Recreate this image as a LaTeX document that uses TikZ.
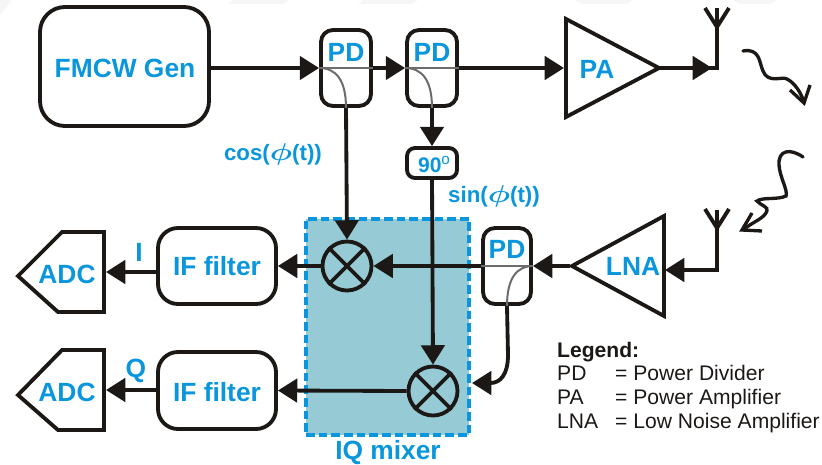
\documentclass[tikz,border=0pt]{standalone}
\usepackage{fontspec}
\setmainfont{Liberation Sans}
\usetikzlibrary{arrows.meta}
\definecolor{sigblue}{HTML}{0A96DC}
\definecolor{inkblack}{HTML}{1C1816}
\definecolor{mixfill}{HTML}{96CBD6}
\newcommand{\bigphi}{\scalebox{1.55}[1.2]{$\phi$}}
\tikzset{
	sig/.style={draw=inkblack, line width=1.15mm, line join=miter},
	feed/.style={sig, -{Triangle[length=5.8mm,width=7mm]}},
	tap/.style={draw=gray!85!black, line width=0.6mm},
	rbox/.style={sig, rounded corners=#1, inner sep=0pt},
	blue22/.style={text=sigblue, font=\fontsize{22.5}{24}\selectfont\bfseries, inner sep=0pt},
	blue19/.style={text=sigblue, font=\fontsize{19}{21}\selectfont\bfseries\boldmath, inner sep=0pt},
	legendtxt/.style={text=inkblack, font=\fontsize{18}{20}\selectfont, inner sep=0pt, anchor=base west}
}
\begin{document}
\begin{tikzpicture}[x=0.3mm,y=-0.3mm]
		\useasboundingbox (0,0) rectangle (822,465);
		% faint band along the top edge
		\fill[gray!7] (0,0) -- (12,0) -- (0,15) -- cycle;
		\fill[gray!7] (233,0) -- (290,0) -- (283,4) -- (228,4) -- cycle;
		\fill[gray!7] (363,0) -- (418,0) -- (412,4) -- (358,4) -- cycle;
		\fill[gray!7] (575,0) -- (632,0) -- (627,4) -- (582,4) -- cycle;
		\fill[gray!7] (733,0) -- (776,0) -- (770,4) -- (740,4) -- cycle;
		% mixer box
		\node[draw=sigblue, fill=mixfill, line width=1.2mm, dash pattern=on 2.6mm off 1.2mm, minimum width=49mm, minimum height=64.8mm, inner sep=0pt] (iqbox) at (387.5,326.5) {};
		\node[blue22] (iqlabel) at (388,453) {IQ mixer};
		% blocks
		\node[rbox=7.5mm, minimum width=50.7mm, minimum height=35.7mm] (fmcw) at (124.5,66.5) {};
		\node[blue22] (fmcwtxt) at (125,68) {FMCW Gen};
		\node[rbox=3.6mm, minimum width=15mm, minimum height=22.8mm] (pd1) at (346,68) {};
		\node[rbox=3.6mm, minimum width=15mm, minimum height=22.8mm] (pd2) at (432,68) {};
		\node[rbox=3.6mm, minimum width=14.4mm, minimum height=22.8mm] (pd3) at (507,266) {};
		\node[blue22] (pd1txt) at (346,52) {PD};
		\node[blue22] (pd2txt) at (432,52) {PD};
		\node[blue22] (pd3txt) at (507,249) {PD};
		\node[rbox=2.4mm, minimum width=15mm, minimum height=9mm] (shift) at (432,163) {};
		\node[text=sigblue, font=\fontsize{18}{20}\selectfont\bfseries, inner sep=0pt] (shifttxt) at (434,165) {90\raisebox{2.4mm}{\fontsize{13}{13}\selectfont\mdseries o}};
		\node[rbox=6mm, minimum width=35.4mm, minimum height=22.8mm] (ifi) at (217,266) {};
		\node[rbox=6mm, minimum width=35.4mm, minimum height=23.1mm] (ifq) at (217,390.5) {};
		\node[blue22] (ifitxt) at (217,266) {IF filter};
		\node[blue22] (ifqtxt) at (217,392) {IF filter};
		\node[sig, circle, minimum size=14.7mm, inner sep=0pt] (mix1) at (347,266) {};
		\node[sig, circle, minimum size=14.7mm, inner sep=0pt] (mix2) at (433,391) {};
		\foreach \m in {mix1,mix2} {
			\draw[sig] (\m.45) -- (\m.225);
			\draw[sig] (\m.135) -- (\m.315);
		}
		% amplifiers
		\draw[sig] (566,19) -- (659,68) -- (566,117) -- cycle;
		\draw[sig] (664,216) -- (572,266) -- (664,316) -- cycle;
		\coordinate (pain) at (564,68);
		\coordinate (paout) at (660,68);
		\coordinate (lnain) at (665,270);
		\coordinate (lnaout) at (570,266);
		\node[blue22] (patxt) at (597,69) {PA};
		\node[blue22] (lnatxt) at (633,266) {LNA};
		% converters
		\draw[sig] (18,276) -- (62,232) -- (104,232) -- (104,312) -- (58,312) -- cycle;
		\draw[sig] (18,395) -- (62,350) -- (104,350) -- (104,430) -- (58,430) -- cycle;
		\coordinate (adciin) at (106,272);
		\coordinate (adcqin) at (106,390);
		\node[blue22] (adcitxt) at (67,274) {ADC};
		\node[blue22] (adcqtxt) at (67,392) {ADC};
		% connections
		\draw[feed] (fmcw.east |- pd1.west) -- (pd1.west);
		\draw[feed] (pd1.east) -- (pd2.west);
		\draw[feed] (pd2.east) -- (pain);
		\draw[feed] (pd1.south) -- (mix1.north);
		\draw[feed] (pd2.south) -- (shift.north);
		\draw[feed] (shift.south) -- (mix2.north);
		\draw[feed] (lnaout) -- (pd3.east);
		\draw[feed] (pd3.west) -- (mix1.east);
		\draw[feed] (mix1.west) -- (ifi.east);
		\draw[feed] (mix2.west) -- (ifq.east);
		\draw[feed] (ifi.west |- adciin) -- (adciin);
		\draw[feed] (ifq.west |- adcqin) -- (adcqin);
		\coordinate (mix2in) at (472,383);
		\draw[feed] (pd3.south) -- (508,355) .. controls (508,375) and (500,383) .. (mix2in);
		% couplers inside the dividers
		\draw[tap] (pd1.west) -- (pd1.east);
		\draw[tap] (pd1.west) .. controls (336,68) and (346,80) .. (pd1.south);
		\draw[tap] (pd2.west) -- (pd2.east);
		\draw[tap] (pd2.west) .. controls (422,68) and (432,80) .. (pd2.south);
		\draw[tap] (pd3.west) -- (pd3.east);
		\draw[tap] (pd3.east) .. controls (517,266) and (507,278) .. (pd3.south);
		% antennas
		\coordinate (txcorner) at (717,68);
		\coordinate (txfork) at (717,27);
		\coordinate (rxcorner) at (717,270);
		\coordinate (rxfork) at (717,228);
		\draw[sig] (paout) -- (txcorner) -- (txfork);
		\draw[feed, shorten >=1.5mm] (paout) -- (txcorner);
		\draw[sig] (txfork) -- (705,8);
		\draw[sig] (txfork) -- (729,8);
		\draw[sig] (txfork) -- (717,8);
		\draw[sig] (rxfork) -- (705,209);
		\draw[sig] (rxfork) -- (729,209);
		\draw[sig] (rxfork) -- (717,210);
		\draw[feed] (rxfork) -- (rxcorner) -- (lnain);
		% propagation
		\draw[sig, line width=1mm, line cap=round] (743,51) .. controls (760,48) and (759,62) .. (763,71) .. controls (768,84) and (782,76) .. (787,79) .. controls (795,83) and (801,93) .. (804,102);
		\draw[sig, line width=1mm] (790,90) -- (804,103) -- (810,85);
		\draw[sig, line width=1mm, line cap=round] (803,157) .. controls (790,148) and (778,150) .. (779,165) .. controls (780,178) and (788,190) .. (786,196) .. controls (778,200) and (762,197) .. (757,201) .. controls (760,205) and (769,207) .. (767,211) .. controls (764,219) and (752,222) .. (743,230);
		\draw[sig, line width=1mm] (752,213) -- (742,230) -- (762,231);
		% labels
		\node[blue19] (coslabel) at (273,154) {cos(\bigphi(t))};
		\node[blue19] (sinlabel) at (494,196) {sin(\bigphi(t))};
		\node[blue22] (ilabel) at (139,252) {I};
		\node[blue22] (qlabel) at (136,371) {Q};
		% legend
		\node[legendtxt, font=\fontsize{18}{20}\selectfont\bfseries] (legendhead) at (557,357) {Legend:};
		\node[legendtxt] (legendpd) at (557,380) {PD};
		\node[legendtxt] (legendpdtxt) at (615,380) {= Power Divider};
		\node[legendtxt] (legendpa) at (557,404) {PA};
		\node[legendtxt] (legendpatxt) at (615,404) {= Power Amplifier};
		\node[legendtxt] (legendlna) at (557,428) {LNA};
		\node[legendtxt] (legendlnatxt) at (615,428) {= Low Noise Amplifier};
	\end{tikzpicture}
\end{document}
